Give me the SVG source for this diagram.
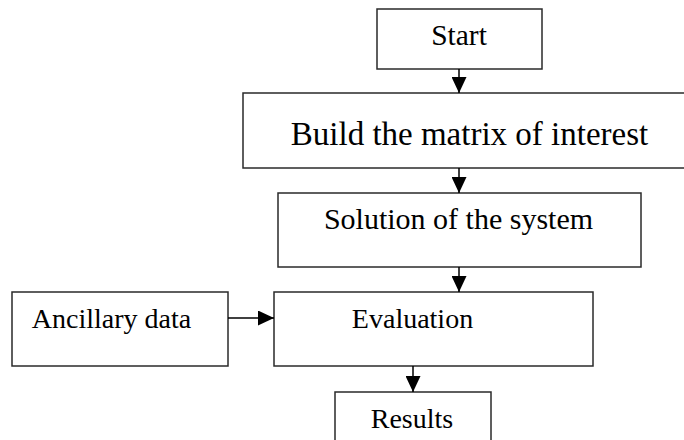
<svg xmlns="http://www.w3.org/2000/svg" width="684" height="440" viewBox="0 0 684 440">
  <style>
    .box { fill: #ffffff; stroke: #2a2a2a; stroke-width: 1.5; }
    .lbl { font-family: "Liberation Serif", "Times New Roman", "DejaVu Serif", serif; fill: #000000; }
    .conn { stroke: #000000; stroke-width: 1.5; fill: none; }
  </style>
  <defs>
    <marker id="arr" markerWidth="16" markerHeight="15" refX="16" refY="7.5" orient="auto" markerUnits="userSpaceOnUse">
      <path d="M0,0 L16,7.5 L0,15 Z" fill="#000000"/>
    </marker>
  </defs>
  <rect width="684" height="440" fill="#ffffff"/>
  <g id="start">
    <rect class="box" x="377" y="9" width="165" height="60"/>
    <text class="lbl" x="459" y="45" font-size="29.5" text-anchor="middle">Start</text>
  </g>
  <g id="build">
    <rect class="box" x="243" y="93" width="450" height="75"/>
    <text class="lbl" x="469.5" y="145" font-size="33" text-anchor="middle">Build the matrix of interest</text>
  </g>
  <g id="solution">
    <rect class="box" x="278" y="193" width="363" height="74"/>
    <text class="lbl" x="458.5" y="229" font-size="30" text-anchor="middle">Solution of the system</text>
  </g>
  <g id="ancillary">
    <rect class="box" x="12" y="292" width="216" height="74"/>
    <text class="lbl" x="111.5" y="328" font-size="28" text-anchor="middle">Ancillary data</text>
  </g>
  <g id="evaluation">
    <rect class="box" x="274" y="292" width="319" height="74"/>
    <text class="lbl" x="412.5" y="328" font-size="28" text-anchor="middle">Evaluation</text>
  </g>
  <g id="results">
    <rect class="box" x="335" y="392" width="156" height="60"/>
    <text class="lbl" x="412" y="428" font-size="28" text-anchor="middle">Results</text>
  </g>
  <g id="connectors">
    <line class="conn" x1="459" y1="69" x2="459" y2="93" marker-end="url(#arr)"/>
    <line class="conn" x1="459" y1="168" x2="459" y2="193" marker-end="url(#arr)"/>
    <line class="conn" x1="459" y1="267" x2="459" y2="292" marker-end="url(#arr)"/>
    <line class="conn" x1="228" y1="318" x2="274" y2="318" marker-end="url(#arr)"/>
    <line class="conn" x1="413" y1="366" x2="413" y2="392" marker-end="url(#arr)"/>
  </g>
</svg>
